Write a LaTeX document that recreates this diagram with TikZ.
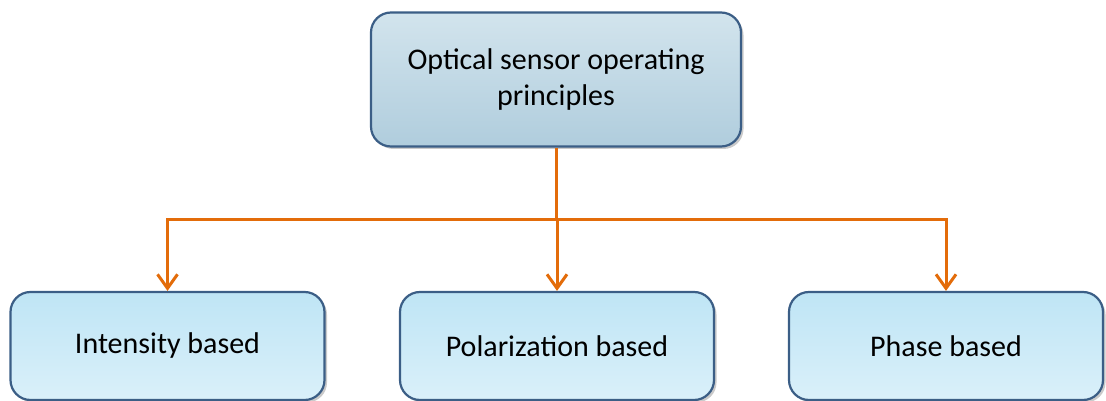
\documentclass[tikz,border=0pt]{standalone}
\usepackage{fontspec}
\setmainfont{Carlito}
\usetikzlibrary{arrows.meta,shadows}
\definecolor{boxborder}{HTML}{3B5E86}
\definecolor{topA}{HTML}{D2E4ED}
\definecolor{topB}{HTML}{B0CDDD}
\definecolor{botA}{HTML}{BFE5F5}
\definecolor{botB}{HTML}{DAF0FA}
\definecolor{conncol}{HTML}{E36C0A}
\tikzset{
  basebox/.style={draw=boxborder, line width=2.2pt, rounded corners=20pt,
    align=center, font=\fontsize{30}{36}\selectfont, text=black,
    drop shadow={shadow xshift=2.5pt, shadow yshift=-2.5pt, opacity=0.35, fill=black!60}},
  topbox/.style={basebox, top color=topA, bottom color=topB,
    minimum width=370pt, minimum height=134pt},
  leafbox/.style={basebox, top color=botA, bottom color=botB,
    minimum width=314pt, minimum height=108pt},
  conn/.style={draw=conncol, line width=3pt,
    -{Straight Barb[length=14pt,width=20pt]}},
  bus/.style={draw=conncol, line width=3pt}
}
\begin{document}
\begin{tikzpicture}[x=1pt,y=-1pt]
\useasboundingbox (0,0) rectangle (1106,401);
\node[topbox] (top) at (556,79.5) {Optical sensor operating\\principles};
\node[leafbox] (b1) at (167.5,346) {Intensity based};
\node[leafbox] (b2) at (557,346) {Polarization based};
\node[leafbox] (b3) at (946,346) {Phase based};
\coordinate (busy) at (0,219);
\draw[bus] (top.south) -- (top.south |- busy);
\draw[conn] (top.south |- busy) -| (b1.north);
\draw[conn] (top.south |- busy) -| (b3.north);
\draw[conn] (b2.north |- busy) -- (b2.north);
\end{tikzpicture}
\end{document}
